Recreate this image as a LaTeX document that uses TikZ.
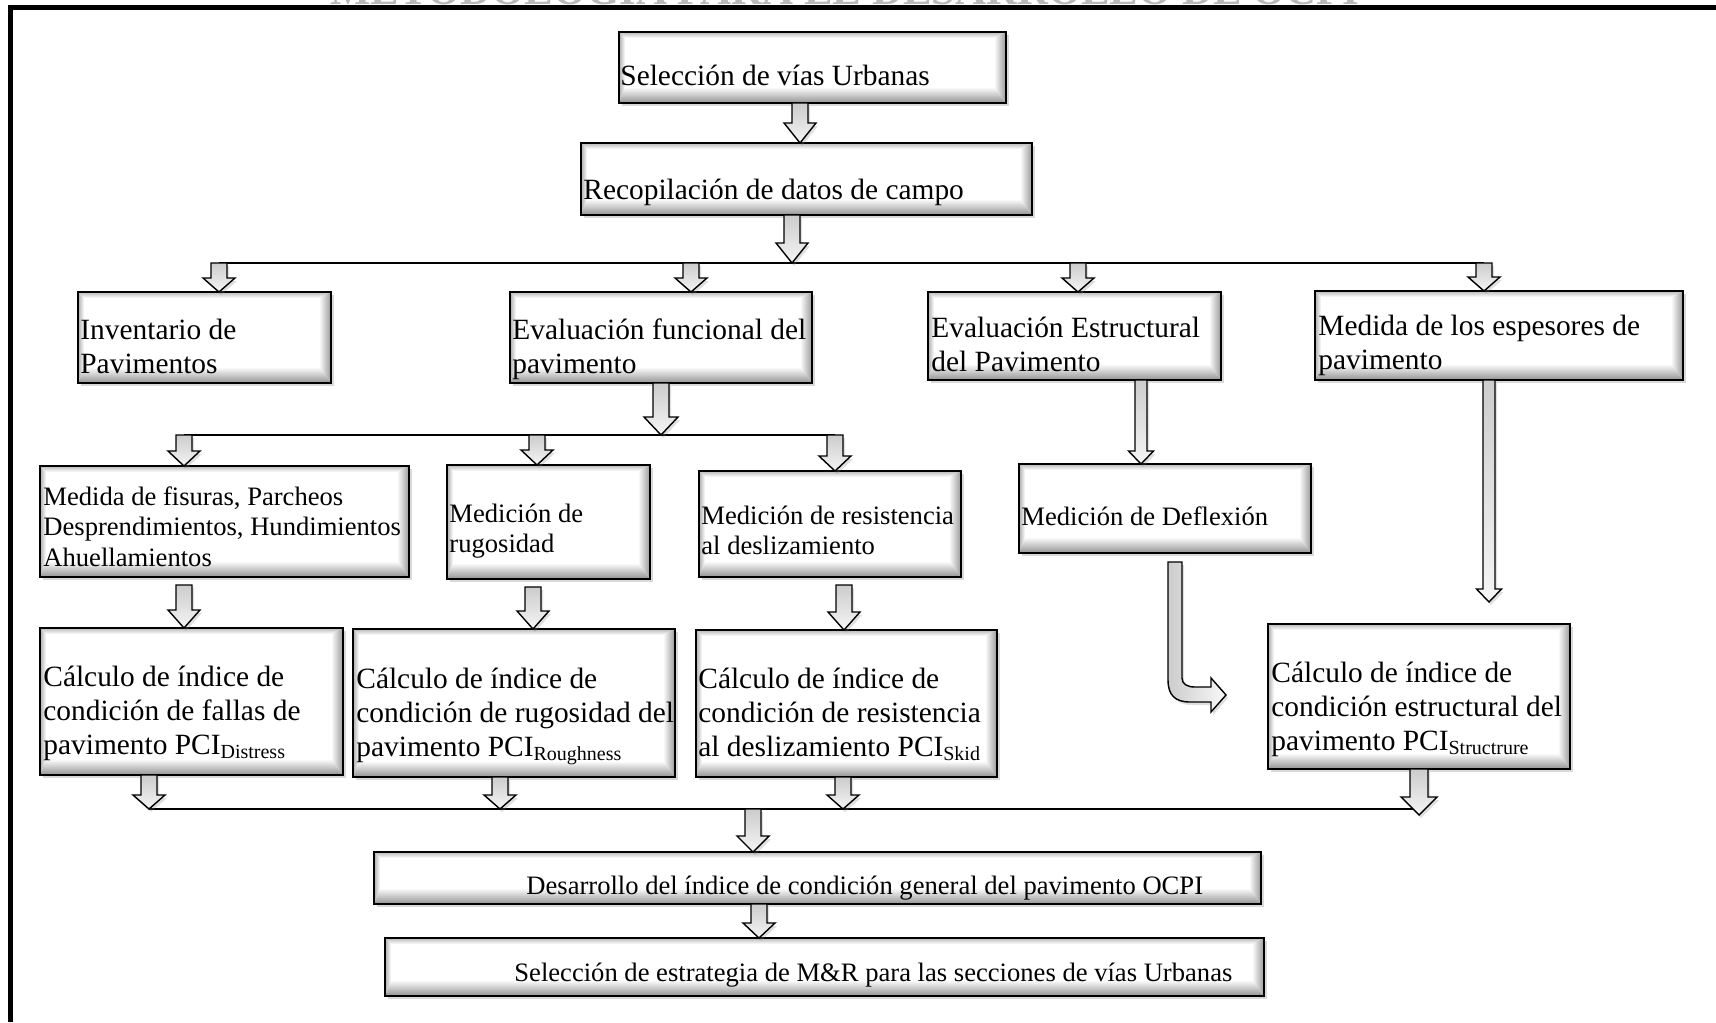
\documentclass[tikz,border=0pt]{standalone}
\usepackage{fontspec}
\setmainfont{Liberation Serif}
\usetikzlibrary{shadows,calc}

\tikzset{
  bevelbox/.style={draw=black, line width=1.3pt, fill=white, inner sep=0pt, outer sep=0pt,
    drop shadow={opacity=0.3, shadow xshift=1.5pt, shadow yshift=-1.5pt},
    path picture={
      \coordinate (pA) at (path picture bounding box.north west);
      \coordinate (pB) at (path picture bounding box.north east);
      \coordinate (pC) at (path picture bounding box.south east);
      \coordinate (pD) at (path picture bounding box.south west);
      \coordinate (qA) at ([shift={(3pt,-3pt)}]pA);
      \coordinate (qB) at ([shift={(-6pt,-3pt)}]pB);
      \coordinate (qC) at ([shift={(-6pt,8pt)}]pC);
      \coordinate (qD) at ([shift={(3pt,8pt)}]pD);
      \shade[top color=gray!55, bottom color=white] (pA)--(pB)--(qB)--(qA)--cycle;
      \shade[left color=white, right color=gray!80] (pB)--(pC)--(qC)--(qB)--cycle;
      \shade[top color=white, bottom color=gray!85] (pC)--(pD)--(qD)--(qC)--cycle;
      \shade[left color=gray!65, right color=white] (pD)--(pA)--(qA)--(qD)--cycle;
    }},
  blockarrow/.style={draw=black, line width=0.7pt, top color=gray!40, bottom color=gray!8,
    drop shadow={opacity=0.25, shadow xshift=1pt, shadow yshift=-1.5pt}},
  tl/.style={inner sep=0pt, anchor=base west, font=\fontsize{14.7}{17.2}\selectfont},
  ts/.style={inner sep=0pt, anchor=base west, font=\fontsize{13.3}{15.3}\selectfont},
  hline/.style={line width=1pt},
  titletext/.style={inner sep=0pt, anchor=base, text=gray!55, font=\fontsize{21.4}{24}\selectfont\bfseries}
}
\newcommand\lns[1]{\begin{tabular}[t]{@{}l@{}}#1\end{tabular}}
\newcommand\sbt[1]{\raisebox{-1.8pt}{\fontsize{10}{10}\selectfont #1}}
\newcommand\bx[5]{\node[bevelbox, minimum width={(#4-#2)*0.5pt}, minimum height={(#5-#3)*0.5pt}] (#1) at ({(#2+#4)/2},{(#3+#5)/2}) {};}
% #1 x (px), #2 from, #3 to, #4 shaft half, #5 head half, #6 head length
\newcommand\varrow[6]{%
  \coordinate (ax) at (#1,0);
  \path[blockarrow] let \p0=(ax), \p1=(#2), \p2=(#3) in
    (\x0-#4,\y1) -- (\x0+#4,\y1) -- (\x0+#4,\y2+#6) -- (\x0+#5,\y2+#6) -- (\x0,\y2)
    -- (\x0-#5,\y2+#6) -- (\x0-#4,\y2+#6) -- cycle;}

\begin{document}
\begin{tikzpicture}[x=0.5pt, y=-0.5pt]
\useasboundingbox (0,0) rectangle (1716,1022);

% cut-off title
\begin{scope}
  \clip (0,0) rectangle (1716,1022);
  \node[titletext] (title) at (845,5) {METODOLOGÍA PARA EL DESARROLLO DE OCPI};
\end{scope}
% frame
\draw[line width=2.5pt] (10.5,1022) -- (10.5,8) -- (1716,8);

% boxes
\bx{b1}{619}{32}{1006}{103}
\bx{b2}{581}{143}{1032}{215}
\bx{inv}{78}{292}{331}{383}
\bx{evf}{510}{292}{812}{383}
\bx{eve}{928}{292}{1221}{380}
\bx{med}{1315}{291}{1683}{380}
\bx{fis}{40}{466}{409}{577}
\bx{rug}{447}{465}{650}{579}
\bx{res}{699}{471}{961}{577}
\bx{def}{1019}{464}{1311}{553}
\bx{cfa}{40}{628}{343}{775}
\bx{cru}{353}{629}{675}{777}
\bx{cre}{696}{630}{997}{777}
\bx{ces}{1268}{624}{1570}{769}
\bx{ocp}{374}{852}{1261}{904}
\bx{mr}{385}{938}{1264}{996}

% texts
\node[tl] (t1) at (620,85) {Selección de vías Urbanas};
\node[tl] (t2) at (583,199) {Recopilación de datos de campo};
\node[tl] (t3) at (80,339) {\lns{Inventario de\\Pavimentos}};
\node[tl] (t4) at (512,339) {\lns{Evaluación funcional del\\pavimento}};
\node[tl] (t5) at (931,337) {\lns{Evaluación Estructural\\del Pavimento}};
\node[tl] (t6) at (1318,335) {\lns{Medida de los espesores de\\pavimento}};
\node[ts] (t7) at (43,505) {\lns{Medida de fisuras, Parcheos\\Desprendimientos, Hundimientos\\Ahuellamientos}};
\node[ts] (t8) at (449,522) {\lns{Medición de\\rugosidad}};
\node[ts] (t9) at (701,524) {\lns{Medición de resistencia\\al deslizamiento}};
\node[ts] (t10) at (1021,525) {Medición de Deflexión};
\node[tl] (t11) at (43,686) {\lns{Cálculo de índice de\\condición de fallas de\\pavimento PCI\sbt{Distress}}};
\node[tl] (t12) at (356,688) {\lns{Cálculo de índice de\\condición de rugosidad del\\pavimento PCI\sbt{Roughness}}};
\node[tl] (t13) at (698,688) {\lns{Cálculo de índice de\\condición de resistencia\\al deslizamiento PCI\sbt{Skid}}};
\node[tl] (t14) at (1271,682) {\lns{Cálculo de índice de\\condición estructural del\\pavimento PCI\sbt{Structrure}}};
\node[ts] (t15) at (526,894) {Desarrollo del índice de condición general del pavimento OCPI};
\node[ts] (t16) at (514,981) {Selección de estrategia de M\&R para las secciones de vías Urbanas};

% junction lines
\coordinate (h1a) at (219,263); \coordinate (h1b) at (1484,263);
\coordinate (h2a) at (184,435); \coordinate (h2b) at (835,435);
\coordinate (h3a) at (149,809); \coordinate (h3b) at (1419,809);
\draw[hline] (h1a) -- (h1b);
\draw[hline] (h2a) -- (h2b);
\draw[hline] (h3a) -- (h3b);
\coordinate (medend) at (1489,602);
\coordinate (cesend) at (1419,815);

% arrows
\varrow{800}{b1.south}{b2.north}{4pt}{8pt}{10pt}
\varrow{792}{b2.south}{h1a}{4pt}{8pt}{10pt}
\varrow{219}{h1a}{inv.north}{4pt}{8pt}{7pt}
\varrow{691}{h1a}{evf.north}{4pt}{8pt}{7pt}
\varrow{1078}{h1a}{eve.north}{4pt}{8pt}{7pt}
\varrow{1484}{h1a}{med.north}{4pt}{8pt}{7pt}
\varrow{661}{evf.south}{h2a}{4pt}{8.5pt}{9pt}
\varrow{184}{h2a}{fis.north}{4pt}{8pt}{7.5pt}
\varrow{537}{h2a}{rug.north}{4pt}{8pt}{7.5pt}
\varrow{835}{h2a}{res.north}{4pt}{8pt}{7.5pt}
\varrow{1141}{eve.south}{def.north}{3pt}{6.25pt}{6.5pt}
\varrow{1489}{med.south}{medend}{3pt}{6.25pt}{6.5pt}
\varrow{184}{$(fis.south)+(0,8)$}{cfa.north}{4pt}{8pt}{9pt}
\varrow{533}{$(rug.south)+(0,8)$}{cru.north}{4pt}{8pt}{9pt}
\varrow{844}{$(res.south)+(0,8)$}{cre.north}{4pt}{8pt}{9pt}
\varrow{149}{cfa.south}{h3a}{4pt}{8pt}{7pt}
\varrow{500}{cru.south}{h3a}{4pt}{8pt}{7pt}
\varrow{843}{cre.south}{h3a}{4pt}{8pt}{7pt}
\varrow{1419}{ces.south}{cesend}{4.5pt}{9pt}{9pt}
\varrow{753}{h3a}{ocp.north}{4pt}{8pt}{8pt}
\varrow{759}{ocp.south}{mr.north}{4pt}{8pt}{7.5pt}

% curved arrow from Deflexion towards structural index
\coordinate (cstart) at (1175,562);
\path[blockarrow, left color=gray!40, right color=gray!5]
  ([xshift=-3.5pt]cstart) -- (1168,680) .. controls (1168,695) and (1175,702) .. (1190,702)
  -- (1211,702) -- (1211,712) -- (1226,695) -- (1211,678) -- (1211,687) -- (1195,687)
  .. controls (1187,687) and (1182,684) .. (1182,678) -- ([xshift=3.5pt]cstart) -- cycle;
\end{tikzpicture}
\end{document}
